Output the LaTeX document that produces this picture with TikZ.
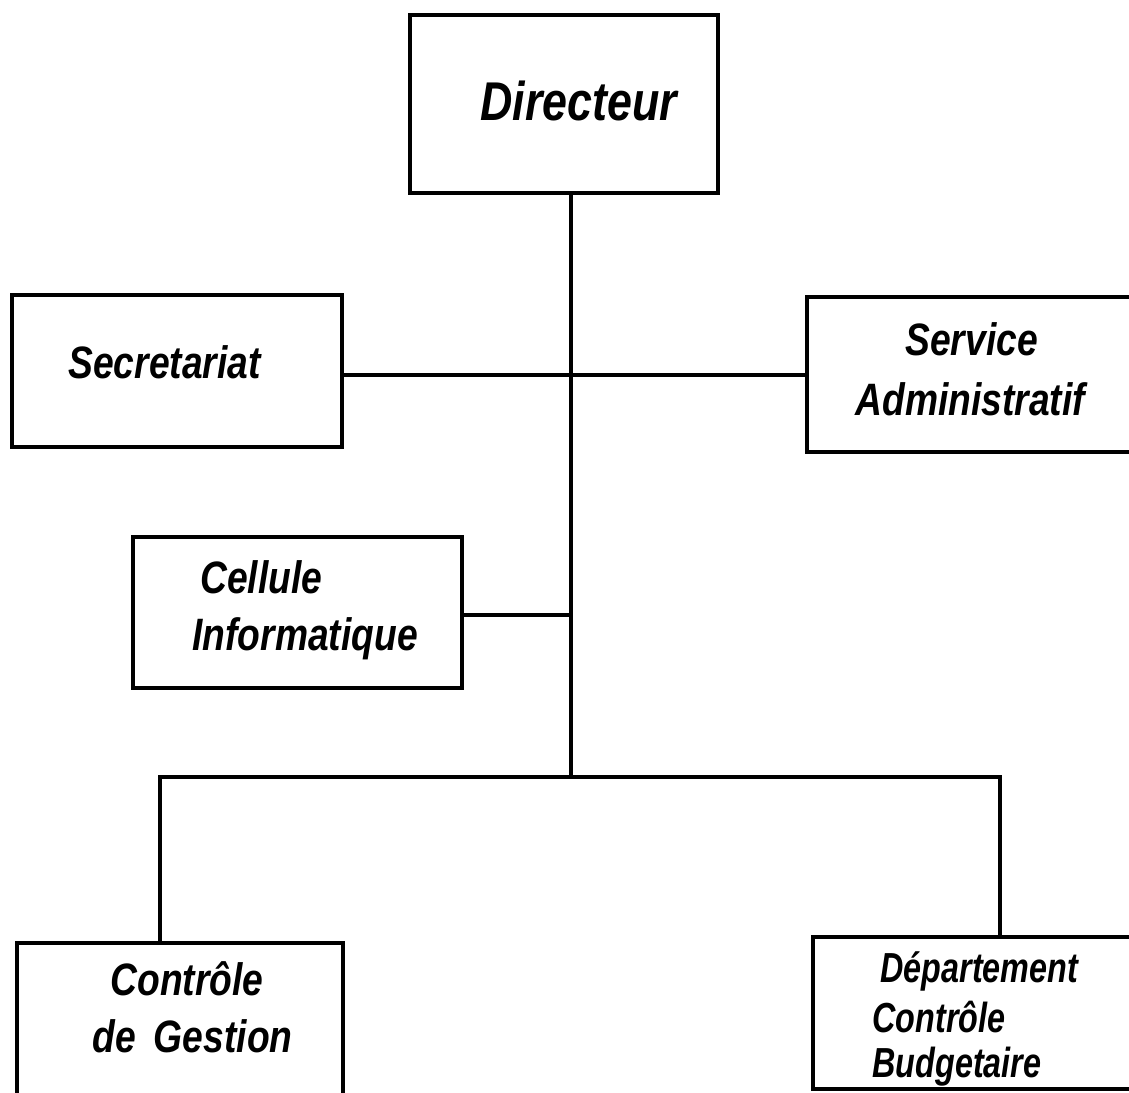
\documentclass[tikz,border=0pt]{standalone}
\usepackage{fontspec}
\newfontfamily\orgfont[FakeStretch=0.82]{Liberation Sans}
\newfontfamily\orgfontnarrow[FakeStretch=0.77]{Liberation Sans}
\begin{document}
\begin{tikzpicture}[x=0.5pt,y=-0.5pt,
  unit box/.style={draw=black,line width=2pt,fill=white,inner sep=0pt,outer sep=0pt,rectangle},
  link/.style={draw=black,line width=2pt},
  label/.style={anchor=base west,inner sep=0pt,font=\orgfont\bfseries\itshape\fontsize{22.7}{28.5}\selectfont},
  big label/.style={label,font=\orgfont\bfseries\itshape\fontsize{27.3}{32}\selectfont},
  small label/.style={label,font=\orgfontnarrow\bfseries\itshape\fontsize{21}{25}\selectfont}]
\useasboundingbox (0,0) rectangle (1129,1092);
\clip (0,0) rectangle (1129,1092);
\fill[white] (0,0) rectangle (1129,1092);

% junction points on the trunk
\coordinate (j1) at (571,375);
\coordinate (j2) at (571,615);
\coordinate (j3) at (571,777);
\coordinate (lb) at (160,777);
\coordinate (rb) at (1000,777);

% boxes
\node[unit box,minimum width=154pt,minimum height=89pt]   (dir) at (564,104) {};
\node[unit box,minimum width=165pt,minimum height=76pt]   (sec) at (177,371) {};
\node[unit box,minimum width=176.5pt,minimum height=77.5pt] (svc) at (983.5,374.5) {};
\node[unit box,minimum width=164.5pt,minimum height=75.5pt] (cel) at (297.5,612.5) {};
\node[unit box,minimum width=163pt,minimum height=88.5pt] (cdg) at (180,1031.5) {};
\node[unit box,minimum width=173.5pt,minimum height=76pt] (dcb) at (986.5,1013) {};

% connectors
\draw[link] (dir.south -| j1) -- (j3);
\draw[link] (sec.east |- j1) -- (svc.west |- j1);
\draw[link] (cel.east |- j2) -- (j2);
\draw[link] (cdg.north -| lb) -- (lb) -- (rb) -- (dcb.north -| rb);

% texts
\node[big label] (tdir) at (480,120) {Directeur};
\node[label] (tsec) at (68,378) {Secretariat};
\node[label] (tsvc1) at (905,355) {Service};
\node[label] (tsvc2) at (855,415) {Administratif};
\node[label] (tcel1) at (200,593) {Cellule};
\node[label] (tcel2) at (192,650) {Informatique};
\node[label] (tcdg1) at (110,995) {Contrôle};
\node[label] (tcdg2) at (92,1052) {de\hspace{0.4em}Gestion};
\node[small label] (tdcb1) at (880,982) {Département};
\node[small label] (tdcb2) at (872,1032) {Contrôle};
\node[small label] (tdcb3) at (872,1077) {Budgetaire};
\end{tikzpicture}
\end{document}
